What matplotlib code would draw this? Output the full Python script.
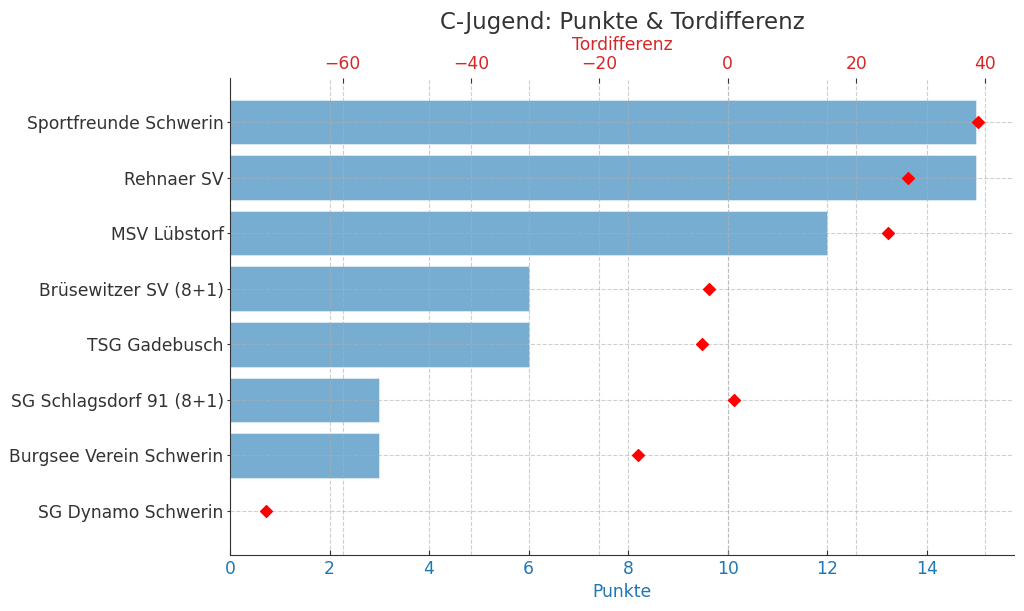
import numpy as np
import matplotlib
matplotlib.use("Agg")
import matplotlib.pyplot as plt

# Data
teams = ["Sportfreunde Schwerin", "Rehnaer SV", "MSV Lübstorf", "Brüsewitzer SV (8+1)",
         "TSG Gadebusch", "SG Schlagsdorf 91 (8+1)", "Burgsee Verein Schwerin", "SG Dynamo Schwerin"]
punkte = [15, 15, 12, 6, 6, 3, 3, 0]
tordiff = [39, 28, 25, -3, -4, 1, -14, -72]

txt = "#333333"
plt.rcParams["font.family"] = "DejaVu Sans"

fig, ax = plt.subplots(figsize=(10.24, 6.11), dpi=100)
y = np.arange(len(teams))

ax.barh(y, punkte, color="#1f77b4", alpha=0.6, height=0.8, edgecolor="white", linewidth=0.5)
ax.set_yticks(y)
ax.set_yticklabels(teams, fontsize=12.3, color=txt)
ax.invert_yaxis()
ax.set_xlabel("Punkte", color="#1f77b4", fontsize=12.3)
ax.tick_params(axis="x", colors=txt, labelcolor="#1f77b4", labelsize=12.3, direction="in")
ax.tick_params(axis="y", colors=txt, length=2.5, pad=2)
ax.grid(True, linestyle="--", color="#b0b0b0", alpha=0.6, linewidth=0.8)

ax2 = ax.twiny()
ax2.scatter(tordiff, y, marker="D", color="red", s=36, zorder=3)
ax2.set_xlabel("Tordifferenz", color="#d62728", fontsize=12.3)
ax2.tick_params(axis="x", colors=txt, labelcolor="#d62728", labelsize=12.3, direction="in")
ax2.grid(True, axis="x", linestyle="--", color="#b0b0b0", alpha=0.6, linewidth=0.8)

for a in (ax, ax2):
    a.spines["top"].set_visible(False)
    a.spines["right"].set_visible(False)
ax2.spines["left"].set_visible(False)
ax2.spines["bottom"].set_visible(False)
ax.spines["left"].set_color(txt)
ax.spines["bottom"].set_color(txt)

ax.set_title("C-Jugend: Punkte & Tordifferenz", fontsize=16.5, color=txt, pad=5)

fig.subplots_adjust(left=0.2246, right=0.990, top=0.8723, bottom=0.0917)
plt.savefig("out.png", dpi=100)
